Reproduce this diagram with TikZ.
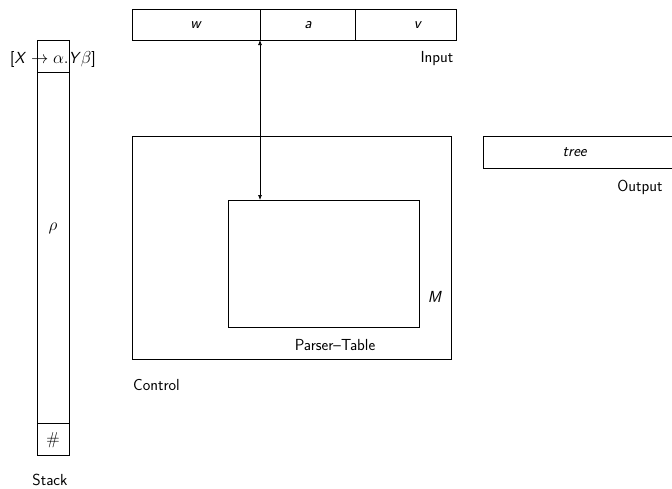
\documentclass[tikz,border=0pt]{standalone}
\usepackage{amsmath}
\usetikzlibrary{arrows.meta}
\renewcommand{\familydefault}{\sfdefault}
\begin{document}
\begin{tikzpicture}[x=1pt,y=-1pt,
  box/.style={draw, line width=0.7pt, inner sep=0pt},
  lbl/.style={inner sep=0pt, font=\fontsize{16}{18}\selectfont},
  every node/.style={font=\fontsize{16}{18}\selectfont}]
\useasboundingbox (0,0) rectangle (672,488);
% input tape
\draw[line width=0.7pt] (132,9) rectangle (456,40);
\draw[line width=0.7pt] (260,9) -- (260,40);
\draw[line width=0.7pt] (355,9) -- (355,40);
\node[lbl] (w) at (196,25) {\textit{w}};
\node[lbl] (a) at (308,25) {\textit{a}};
\node[lbl] (v) at (418,25) {\textit{v}};
\node[lbl] (inlbl) at (437,59) {Input};
\coordinate (tapeptr) at (260,40);
% stack
\draw[line width=0.7pt] (37,40) rectangle (69,455);
\draw[line width=0.7pt] (37,72) -- (69,72);
\draw[line width=0.7pt] (37,423) -- (69,423);
\node[lbl] (item) at (53,59) {[\textit{X} $\rightarrow \alpha.$\textit{Y}$\beta$]};
\node[lbl] (rho) at (53,228) {$\rho$};
\node[lbl] (hash) at (53,440) {$\#$};
\node[lbl] (stlbl) at (50,480) {Stack};
% control
\node[box, minimum width=319pt, minimum height=223pt, anchor=north west] (ctrl) at (132,136) {};
\node[lbl, anchor=west] (ctrllbl) at (133,385) {Control};
\node[box, minimum width=191pt, minimum height=127pt, anchor=north west] (tab) at (228,200) {};
\node[lbl] (M) at (435,297) {\textit{M}};
\node[lbl] (ptlbl) at (335,345) {Parser--Table};
\coordinate (tabtop) at (260,200);
% output
\node[box, minimum width=190pt, minimum height=32pt, anchor=north west] (out) at (483,136) {};
\node[lbl] (tree) at (575,152) {\textit{tree}};
\node[lbl] (outlbl) at (640,187) {Output};
% arrow
\draw[line width=0.7pt, {Latex[length=5pt,width=4pt]}-{Latex[length=5pt,width=4pt]}] (tapeptr) -- (tabtop);
\end{tikzpicture}
\end{document}
